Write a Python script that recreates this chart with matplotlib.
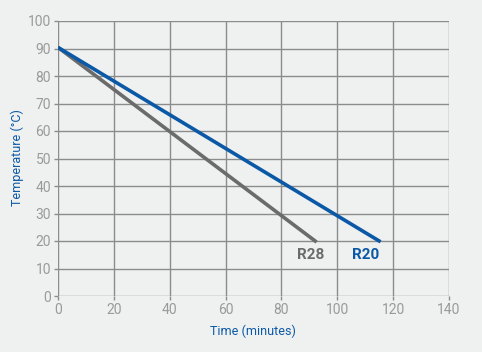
import matplotlib
matplotlib.use("Agg")
import matplotlib.pyplot as plt

series_names = ["R20", "R28"]
time_r20 = [0, 115.5]
temp_r20 = [90.4, 19.7]
time_r28 = [0, 92.6]
temp_r28 = [90.4, 19.6]
x_ticks = [0, 20, 40, 60, 80, 100, 120, 140]
y_ticks = [0, 10, 20, 30, 40, 50, 60, 70, 80, 90, 100]

plt.rcParams['font.family'] = ['Roboto', 'DejaVu Sans']

bg = '#eff0f0'
blue = '#0b59a6'
gray = '#6b6b6b'
tick_col = '#9a9a9a'
grid_col = '#8c8c8c'

fig = plt.figure(figsize=(4.82, 3.52), dpi=100, facecolor=bg)
ax = fig.add_axes([58/482, 1-296/352, 391/482, 275/352])
ax.set_facecolor(bg)

ax.plot(time_r28, temp_r28, color=gray, lw=2.6, solid_capstyle='butt', zorder=3)
ax.plot(time_r20, temp_r20, color=blue, lw=2.6, solid_capstyle='butt', zorder=3)

ax.text(90.4, 14.9, series_names[1], color=gray, fontsize=11, fontweight='bold', ha='center', va='center')
ax.text(110.2, 14.9, series_names[0], color=blue, fontsize=11, fontweight='bold', ha='center', va='center')

ax.set_xlim(0, 140)
ax.set_ylim(0, 100)
ax.set_xticks(x_ticks)
ax.set_yticks(y_ticks)
ax.grid(True, color=grid_col, lw=1.0, zorder=0)
for s in ax.spines.values():
    s.set_visible(False)
ax.tick_params(colors=grid_col, labelcolor=tick_col, labelsize=10, length=3, width=1, direction='out', pad=2)

ax.set_xlabel("Time (minutes)", color=blue, fontsize=9)
ax.set_ylabel("Temperature (°C)", color=blue, fontsize=9)
ax.xaxis.set_label_coords((253-58)/391, (296-331)/275)
ax.yaxis.set_label_coords((17-58)/391, (296-158)/275)
ax.xaxis.label.set_va('center')
ax.yaxis.label.set_va('center')

fig.savefig("out.png", dpi=100, facecolor=bg)
